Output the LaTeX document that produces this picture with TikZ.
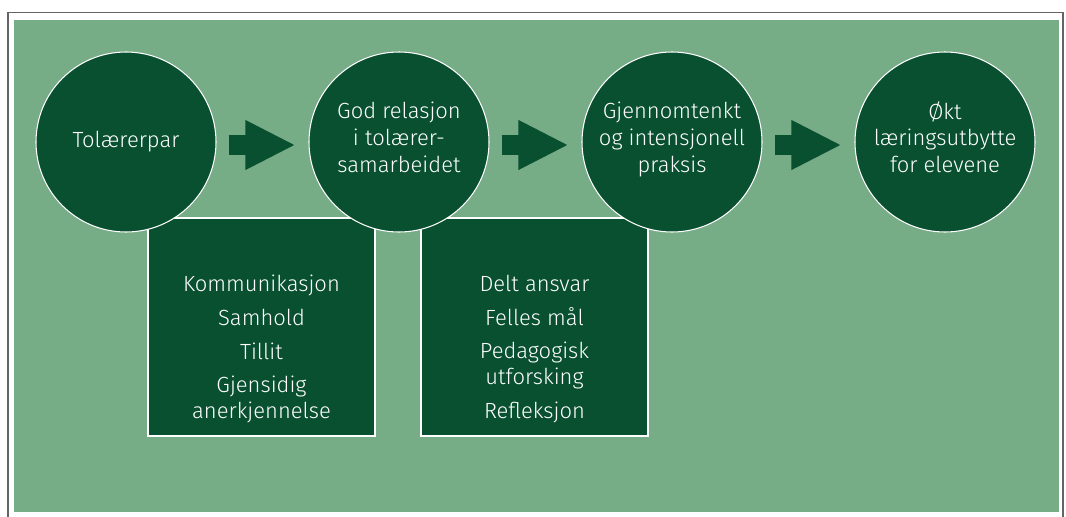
\documentclass[tikz,border=0pt]{standalone}
\usepackage{fontspec}
\setmainfont{Fira Sans Light}
\usepackage{tikz}
\usetikzlibrary{arrows.meta, positioning}

\definecolor{darkgreen}{HTML}{085030}
\definecolor{lightgreen}{HTML}{76AC86}
\definecolor{framegray}{HTML}{646464}

\newcommand{\lowpad}{\rule[-0.2cm]{0pt}{0pt}}

\begin{document}
\begin{tikzpicture}[
    stage/.style={circle, draw=white, line width=0.6pt, fill=darkgreen,
                  minimum size=3.6cm, inner sep=0pt, align=center,
                  text=white, font=\fontsize{12.5}{15.3}\selectfont},
    factorbox/.style={rectangle, draw=white, line width=0.6pt, fill=darkgreen,
                      minimum width=4.54cm, minimum height=4.36cm},
    factors/.style={align=center, text=white, inner sep=0pt,
                    font=\fontsize{12.5}{14.7}\selectfont},
    bigarrow/.style={draw=darkgreen, line width=0.4cm,
                     -{Triangle[length=1cm, width=0.92cm]},
                     shorten <=0.24cm, shorten >=0.26cm},
]
\useasboundingbox (0,0) rectangle (21.32,10.32);

% frame and panel
\draw[framegray, line width=1.1pt] (0.16,-0.2) |- (21.26,10.07) -- (21.26,-0.2);
\fill[lightgreen] (0.28,0.08) rectangle (21.18,9.92);

% boxes (behind the circles)
\node[factorbox] (box1) at (5.23,3.78) {};
\node[factorbox] (box2) at (10.69,3.78) {};

% circles
\node[stage] (par)   at (2.52,7.48)  {Tolærerpar};
\node[stage] (rel)   at (7.98,7.48)  {God relasjon\\i tolærer-\\samarbeidet\lowpad};
\node[stage] (prak)  at (13.44,7.48) {Gjennomtenkt\\og intensjonell\\praksis\lowpad};
\node[stage] (utb)   at (18.90,7.48) {Økt\\læringsutbytte\\for elevene\lowpad};

% box texts
\node[factors] (list1) at (5.23,3.34)
    {Kommunikasjon\\[0.16cm]Samhold\\[0.16cm]Tillit\\[0.16cm]Gjensidig\\anerkjennelse};
\node[factors] (list2) at (10.69,3.34)
    {Delt ansvar\\[0.16cm]Felles mål\\[0.16cm]Pedagogisk\\utforsking\\[0.16cm]Refleksjon};

% arrows
\draw[bigarrow] ([yshift=-0.06cm]par.east)  -- ([yshift=-0.06cm]rel.west);
\draw[bigarrow] ([yshift=-0.06cm]rel.east)  -- ([yshift=-0.06cm]prak.west);
\draw[bigarrow] ([yshift=-0.06cm]prak.east) -- ([yshift=-0.06cm]utb.west);

\end{tikzpicture}
\end{document}
